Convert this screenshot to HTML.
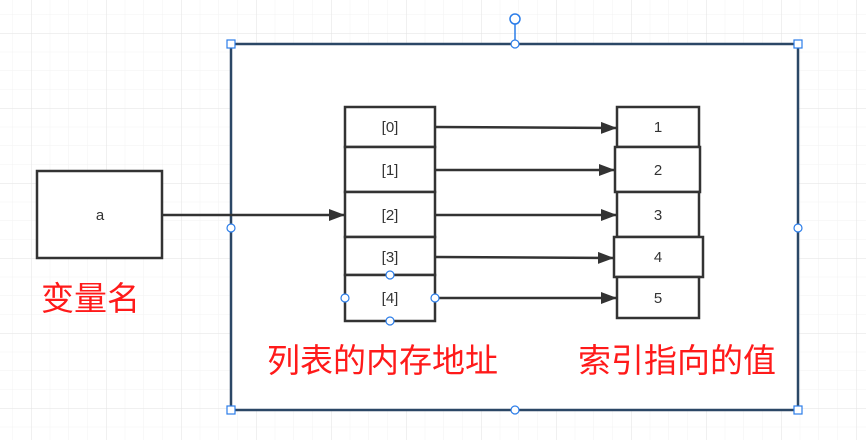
<!DOCTYPE html>
<html><head><meta charset="utf-8"><style>
html,body{margin:0;padding:0;background:#fff}
svg{display:block}
text{font-family:"Liberation Sans","Noto Sans CJK SC",sans-serif}
</style></head><body>
<svg width="866" height="440" xmlns="http://www.w3.org/2000/svg">
<defs>
<pattern id="minor" x="12.25" y="14.25" width="18.75" height="18.75" patternUnits="userSpaceOnUse">
<path d="M0 0H18.75M0 0V18.75" stroke="#f2f2f2" stroke-width="1" fill="none"/>
</pattern>
<pattern id="major" x="31" y="33" width="75" height="75" patternUnits="userSpaceOnUse">
<path d="M0 0H75M0 0V75" stroke="#e2e2e2" stroke-width="1" fill="none"/>
</pattern>
<marker id="ar" markerWidth="16" markerHeight="12" refX="15" refY="6" orient="auto" markerUnits="userSpaceOnUse">
<path d="M0 0L16 6L0 12Z" fill="#333"/>
</marker>
</defs>
<rect width="866" height="440" fill="url(#minor)"/>
<rect width="866" height="440" fill="url(#major)"/>
<rect x="231" y="44" width="567" height="366" fill="#fff" stroke="#2b4766" stroke-width="2.5"/>
<line x1="515" y1="19" x2="515" y2="44" stroke="#2b7de9" stroke-width="1.5"/>
<circle cx="515" cy="19" r="5" fill="#fff" stroke="#2b7de9" stroke-width="1.5"/>
<g fill="#fff" stroke="#2b7de9" stroke-width="1.2">
<rect x="227" y="40" width="8" height="8"/><rect x="794" y="40" width="8" height="8"/>
<rect x="227" y="406" width="8" height="8"/><rect x="794" y="406" width="8" height="8"/>
<circle cx="515" cy="44" r="4"/><circle cx="515" cy="410" r="4"/>
<circle cx="231" cy="228" r="4"/><circle cx="798" cy="228" r="4"/>
</g>
<g fill="#fff" stroke="#333" stroke-width="2.5">
<rect x="37" y="171" width="125" height="87"/>
<rect x="345" y="107" width="90" height="40"/>
<rect x="345" y="147" width="90" height="45"/>
<rect x="345" y="192" width="90" height="45"/>
<rect x="345" y="237" width="90" height="38"/>
<rect x="345" y="275" width="90" height="46"/>
<rect x="617" y="107" width="82" height="40"/>
<rect x="615" y="147" width="85" height="45"/>
<rect x="617" y="192" width="82" height="45"/>
<rect x="614" y="237" width="89" height="40"/>
<rect x="617" y="277" width="82" height="41"/>
</g>
<g stroke="#333" stroke-width="2.5" marker-end="url(#ar)">
<line x1="162" y1="215" x2="344" y2="215"/>
<line x1="435" y1="127" x2="616" y2="128"/>
<line x1="435" y1="170" x2="614" y2="170"/>
<line x1="435" y1="215" x2="616" y2="215"/>
<line x1="435" y1="257" x2="613" y2="258"/>
<line x1="435" y1="298" x2="616" y2="298"/>
</g>
<g fill="#fff" stroke="#2b7de9" stroke-width="1.2">
<circle cx="390" cy="275" r="4"/><circle cx="390" cy="321" r="4"/>
<circle cx="345" cy="298" r="4"/><circle cx="435" cy="298" r="4"/>
</g>
<g font-size="15" fill="#333" text-anchor="middle">
<text x="100" y="220">a</text>
<text x="390" y="132">[0]</text>
<text x="390" y="175">[1]</text>
<text x="390" y="220">[2]</text>
<text x="390" y="262">[3]</text>
<text x="390" y="303">[4]</text>
<text x="658" y="132">1</text>
<text x="658" y="175">2</text>
<text x="658" y="220">3</text>
<text x="658" y="262">4</text>
<text x="658" y="303">5</text>
</g>
<g font-size="33" fill="#ff1a1a">
<text x="41" y="310">变量名</text>
<text x="267" y="372">列表的内存地址</text>
<text x="578" y="372">索引指向的值</text>
</g>
</svg>
</body></html>
